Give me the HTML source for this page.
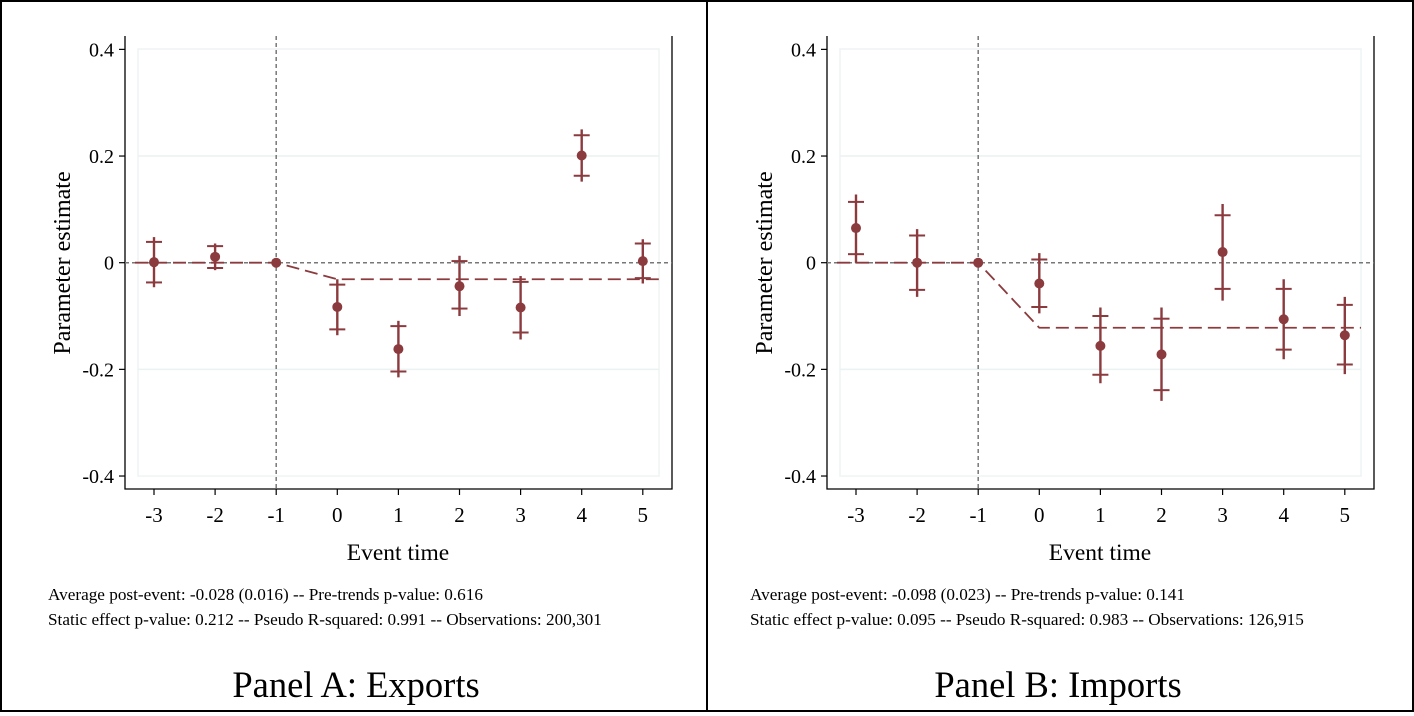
<!DOCTYPE html>
<html><head><meta charset="utf-8"><style>
html,body{margin:0;padding:0;background:#fff;}
svg{display:block;font-family:"Liberation Serif",serif;}
</style></head><body>
<svg id="fig" width="1414" height="716" viewBox="0 0 1414 716">
<rect x="1" y="1" width="1412" height="710" fill="#fff" stroke="#000" stroke-width="2"/>
<line x1="707" y1="0" x2="707" y2="712" stroke="#000" stroke-width="2"/>
</svg>
<script>
const eventTimes=[-3,-2,-1,0,1,2,3,4,5];
const yTicks=[0.4,0.2,0,-0.2,-0.4];
const yTickLabels=["0.4","0.2","0","-0.2","-0.4"];
const expEst=[0.001,0.011,0,-0.083,-0.162,-0.044,-0.084,0.201,0.003];
const expHi90=[0.039,0.031,0,-0.041,-0.119,0.003,-0.036,0.239,0.036];
const expLo90=[-0.037,-0.010,0,-0.125,-0.204,-0.086,-0.131,0.163,-0.029];
const expHi95=[0.048,0.036,0,-0.031,-0.109,0.013,-0.025,0.250,0.044];
const expLo95=[-0.046,-0.014,0,-0.136,-0.215,-0.100,-0.144,0.152,-0.039];
const expFit=-0.031;
const impEst=[0.065,0,0,-0.039,-0.156,-0.172,0.020,-0.106,-0.136];
const impHi90=[0.114,0.051,0,0.006,-0.100,-0.105,0.089,-0.049,-0.079];
const impLo90=[0.016,-0.051,0,-0.083,-0.210,-0.239,-0.049,-0.163,-0.191];
const impHi95=[0.128,0.063,0,0.018,-0.084,-0.084,0.110,-0.031,-0.064];
const impLo95=[0,-0.064,0,-0.095,-0.226,-0.259,-0.071,-0.181,-0.209];
const impFit=-0.122;
const notesA=["Average post-event: -0.028 (0.016) -- Pre-trends p-value: 0.616","Static effect p-value: 0.212 -- Pseudo R-squared: 0.991 -- Observations: 200,301"];
const notesB=["Average post-event: -0.098 (0.023) -- Pre-trends p-value: 0.141","Static effect p-value: 0.095 -- Pseudo R-squared: 0.983 -- Observations: 126,915"];

const NS="http://www.w3.org/2000/svg";
const svg=document.getElementById('fig');
const RED="#8b3a3e";
function mk(tag,attrs,parent,txt){const e=document.createElementNS(NS,tag);for(const k in attrs)e.setAttribute(k,attrs[k]);if(txt!==undefined)e.textContent=txt;(parent||svg).appendChild(e);return e;}

function panel(off,est,hi90,lo90,hi95,lo95,fit,notes,title,key){
  const g=mk('g',{});
  
  
  const L=off+125,R=off+672,T=36,B=489,IL=off+138,IR=off+659;
  const xs=v=>off+154+(v+3)*61.1;
  const ys=v=>262.7-v*533.3;
  const pa=mk('rect',{x:IL,y:49,width:IR-IL,height:427,fill:'none',stroke:'#eef4f4','stroke-width':1.5},g);
  
  
  yTicks.forEach((t,i)=>{
    if(t!==0&&Math.abs(t)<0.3){const gl=mk('line',{x1:IL,x2:IR,y1:ys(t),y2:ys(t),stroke:'#eaf2f2','stroke-width':1.5},g);}
    mk('line',{x1:L-6,x2:L,y1:ys(t),y2:ys(t),stroke:'#000','stroke-width':1.2},g);
    const tl=mk('text',{x:L-11,y:ys(t)+7,'text-anchor':'end','font-size':20},g,yTickLabels[i]);
    
    
  });
  const fr=mk('path',{d:`M${L} ${T}V${B}H${R}V${T}`,fill:'none',stroke:'#000','stroke-width':1.3},g);
  
  
  eventTimes.forEach(t=>{
    mk('line',{x1:xs(t),x2:xs(t),y1:B,y2:B+6,stroke:'#000','stroke-width':1.2},g);
    const tl=mk('text',{x:xs(t),y:B+33,'text-anchor':'middle','font-size':21},g,String(t));
    
    
  });
  mk('line',{x1:xs(-1),x2:xs(-1),y1:T,y2:B,stroke:'#777','stroke-width':1.5,'stroke-dasharray':'4 3'},g);
  mk('line',{x1:L,x2:R,y1:ys(0),y2:ys(0),stroke:'#777','stroke-width':1.5,'stroke-dasharray':'4 3'},g);
  const fl=mk('path',{d:`M${off+135} ${ys(0)}L${xs(-1)} ${ys(0)}L${xs(0)} ${ys(fit)}L${IR} ${ys(fit)}`,fill:'none',stroke:RED,'stroke-width':1.8,'stroke-dasharray':'13 6'},g);
  
  
  eventTimes.forEach((t,i)=>{
    const x=xs(t);
    if(t!==-1){
      const ci=mk('line',{x1:x,x2:x,y1:ys(hi95[i]),y2:ys(lo95[i]),stroke:RED,'stroke-width':2.4},g);
      
      
      mk('line',{x1:x-8,x2:x+8,y1:ys(hi90[i]),y2:ys(hi90[i]),stroke:RED,'stroke-width':2},g);
      mk('line',{x1:x-8,x2:x+8,y1:ys(lo90[i]),y2:ys(lo90[i]),stroke:RED,'stroke-width':2},g);
    }
    const p=mk('circle',{cx:x,cy:ys(est[i]),r:5,fill:RED},g);
    
    
  });
  const yl=mk('text',{x:0,y:0,'text-anchor':'middle','font-size':24,transform:`translate(${off+70},263) rotate(-90)`},g,'Parameter estimate');
  
  
  const xl=mk('text',{x:off+398,y:560,'text-anchor':'middle','font-size':23.5},g,'Event time');
  
  
  notes.forEach((n,i)=>{
    const nt=mk('text',{x:off+48,y:600+i*25,'font-size':17.2},g,n);
    
    
  });
  const tt=mk('text',{x:off+356,y:697,'text-anchor':'middle','font-size':36.5},g,title);
  
  
}
panel(0,expEst,expHi90,expLo90,expHi95,expLo95,expFit,notesA,'Panel A: Exports','exports');
panel(702,impEst,impHi90,impLo90,impHi95,impLo95,impFit,notesB,'Panel B: Imports','imports');
</script>
</body></html>
